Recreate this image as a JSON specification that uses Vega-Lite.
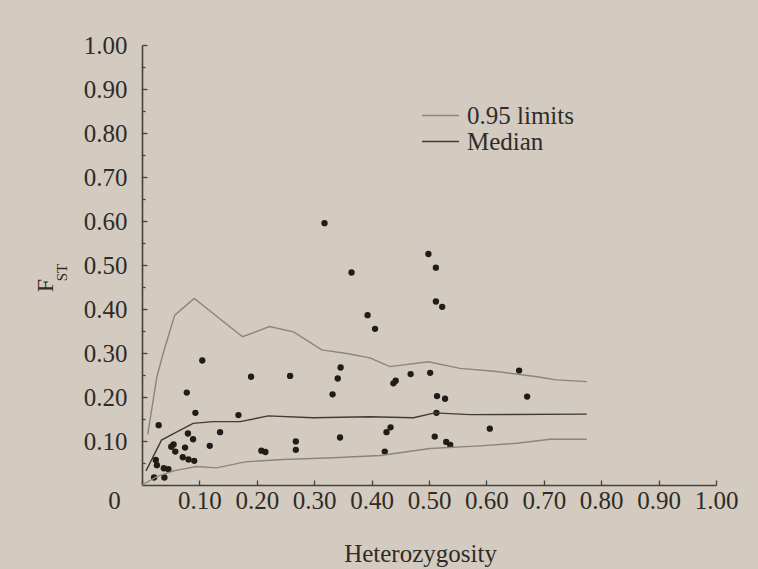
{
  "$schema": "https://vega.github.io/schema/vega-lite/v6.json",
  "width": 574,
  "height": 440,
  "autosize": {"type": "none"},
  "padding": {"left": 142, "top": 45, "right": 42, "bottom": 84},
  "background": "#d3cbbf",
  "config": {
    "view": {"stroke": null},
    "font": "Liberation Serif",
    "axis": {
      "labelFont": "Liberation Serif",
      "titleFont": "Liberation Serif",
      "labelColor": "#2f2b28",
      "titleColor": "#2f2b28",
      "domainColor": "#45413d",
      "tickColor": "#45413d",
      "domainWidth": 1.6,
      "tickWidth": 1.3,
      "grid": false,
      "labelOverlap": false,
      "labelFlush": false,
      "titleFontWeight": "normal"
    }
  },
  "datasets": {
    "points": [
      {"h": 0.021, "f": 0.017}, {"h": 0.039, "f": 0.017}, {"h": 0.024, "f": 0.057}, {"h": 0.026, "f": 0.045},
      {"h": 0.038, "f": 0.038}, {"h": 0.046, "f": 0.036}, {"h": 0.029, "f": 0.136}, {"h": 0.051, "f": 0.087},
      {"h": 0.055, "f": 0.092}, {"h": 0.058, "f": 0.076}, {"h": 0.071, "f": 0.063}, {"h": 0.075, "f": 0.085},
      {"h": 0.078, "f": 0.21}, {"h": 0.08, "f": 0.117}, {"h": 0.081, "f": 0.058}, {"h": 0.089, "f": 0.104},
      {"h": 0.091, "f": 0.055}, {"h": 0.093, "f": 0.164}, {"h": 0.105, "f": 0.283}, {"h": 0.118, "f": 0.089},
      {"h": 0.136, "f": 0.12}, {"h": 0.168, "f": 0.159}, {"h": 0.19, "f": 0.246}, {"h": 0.208, "f": 0.078},
      {"h": 0.215, "f": 0.075}, {"h": 0.258, "f": 0.248}, {"h": 0.268, "f": 0.099}, {"h": 0.268, "f": 0.08},
      {"h": 0.318, "f": 0.595}, {"h": 0.332, "f": 0.206}, {"h": 0.341, "f": 0.242}, {"h": 0.346, "f": 0.267},
      {"h": 0.345, "f": 0.108}, {"h": 0.365, "f": 0.483}, {"h": 0.393, "f": 0.386}, {"h": 0.406, "f": 0.355},
      {"h": 0.423, "f": 0.076}, {"h": 0.426, "f": 0.12}, {"h": 0.433, "f": 0.131}, {"h": 0.438, "f": 0.231},
      {"h": 0.442, "f": 0.237}, {"h": 0.468, "f": 0.252}, {"h": 0.499, "f": 0.525}, {"h": 0.502, "f": 0.255},
      {"h": 0.512, "f": 0.494}, {"h": 0.512, "f": 0.417}, {"h": 0.523, "f": 0.405}, {"h": 0.514, "f": 0.202},
      {"h": 0.528, "f": 0.196}, {"h": 0.513, "f": 0.164}, {"h": 0.51, "f": 0.11}, {"h": 0.53, "f": 0.098},
      {"h": 0.537, "f": 0.091}, {"h": 0.606, "f": 0.128}, {"h": 0.657, "f": 0.26}, {"h": 0.671, "f": 0.201}
    ],
    "curves": [
      {"curve": "upper", "series": "0.95 limits", "h": 0.01, "f": 0.115},
      {"curve": "upper", "series": "0.95 limits", "h": 0.026, "f": 0.246},
      {"curve": "upper", "series": "0.95 limits", "h": 0.037, "f": 0.3},
      {"curve": "upper", "series": "0.95 limits", "h": 0.057, "f": 0.386},
      {"curve": "upper", "series": "0.95 limits", "h": 0.091, "f": 0.424},
      {"curve": "upper", "series": "0.95 limits", "h": 0.175, "f": 0.337},
      {"curve": "upper", "series": "0.95 limits", "h": 0.222, "f": 0.36},
      {"curve": "upper", "series": "0.95 limits", "h": 0.264, "f": 0.348},
      {"curve": "upper", "series": "0.95 limits", "h": 0.313, "f": 0.307},
      {"curve": "upper", "series": "0.95 limits", "h": 0.357, "f": 0.299},
      {"curve": "upper", "series": "0.95 limits", "h": 0.397, "f": 0.289},
      {"curve": "upper", "series": "0.95 limits", "h": 0.432, "f": 0.269},
      {"curve": "upper", "series": "0.95 limits", "h": 0.499, "f": 0.28},
      {"curve": "upper", "series": "0.95 limits", "h": 0.554, "f": 0.265},
      {"curve": "upper", "series": "0.95 limits", "h": 0.618, "f": 0.258},
      {"curve": "upper", "series": "0.95 limits", "h": 0.688, "f": 0.246},
      {"curve": "upper", "series": "0.95 limits", "h": 0.722, "f": 0.239},
      {"curve": "upper", "series": "0.95 limits", "h": 0.775, "f": 0.235},
      {"curve": "median", "series": "Median", "h": 0.007, "f": 0.032},
      {"curve": "median", "series": "Median", "h": 0.034, "f": 0.102},
      {"curve": "median", "series": "Median", "h": 0.055, "f": 0.117},
      {"curve": "median", "series": "Median", "h": 0.089, "f": 0.14},
      {"curve": "median", "series": "Median", "h": 0.124, "f": 0.144},
      {"curve": "median", "series": "Median", "h": 0.171, "f": 0.144},
      {"curve": "median", "series": "Median", "h": 0.22, "f": 0.157},
      {"curve": "median", "series": "Median", "h": 0.298, "f": 0.153},
      {"curve": "median", "series": "Median", "h": 0.397, "f": 0.155},
      {"curve": "median", "series": "Median", "h": 0.473, "f": 0.153},
      {"curve": "median", "series": "Median", "h": 0.51, "f": 0.164},
      {"curve": "median", "series": "Median", "h": 0.571, "f": 0.16},
      {"curve": "median", "series": "Median", "h": 0.775, "f": 0.161},
      {"curve": "lower", "series": "0.95 limits", "h": 0.0, "f": 0.0},
      {"curve": "lower", "series": "0.95 limits", "h": 0.026, "f": 0.019},
      {"curve": "lower", "series": "0.95 limits", "h": 0.055, "f": 0.032},
      {"curve": "lower", "series": "0.95 limits", "h": 0.095, "f": 0.042},
      {"curve": "lower", "series": "0.95 limits", "h": 0.13, "f": 0.039},
      {"curve": "lower", "series": "0.95 limits", "h": 0.182, "f": 0.053},
      {"curve": "lower", "series": "0.95 limits", "h": 0.246, "f": 0.058},
      {"curve": "lower", "series": "0.95 limits", "h": 0.333, "f": 0.062},
      {"curve": "lower", "series": "0.95 limits", "h": 0.415, "f": 0.067},
      {"curve": "lower", "series": "0.95 limits", "h": 0.502, "f": 0.083},
      {"curve": "lower", "series": "0.95 limits", "h": 0.589, "f": 0.089},
      {"curve": "lower", "series": "0.95 limits", "h": 0.653, "f": 0.095},
      {"curve": "lower", "series": "0.95 limits", "h": 0.711, "f": 0.104},
      {"curve": "lower", "series": "0.95 limits", "h": 0.775, "f": 0.104}
    ]
  },
  "layer": [
    {
      "data": {"name": "points"},
      "mark": {"type": "circle", "size": 40, "color": "#1f1c1a", "opacity": 1},
      "encoding": {
        "x": {
          "field": "h", "type": "quantitative",
          "scale": {"domain": [0, 1], "nice": false, "zero": true},
          "axis": {
            "values": [0, 0.05, 0.1, 0.15, 0.2, 0.25, 0.3, 0.35, 0.4, 0.45, 0.5, 0.55, 0.6, 0.65, 0.7, 0.75, 0.8, 0.85, 0.9, 0.95, 1.0],
            "labelExpr": "abs(datum.value*10 - round(datum.value*10)) > 0.01 ? '' : (datum.value == 0 ? '0' : format(datum.value, '.2f'))",
            "labelFontSize": 25,
            "labelPadding": 8,
            "labelOffset": {"condition": {"test": "datum.value == 0", "value": -28}, "value": 0},
            "tickSize": {"condition": {"test": "abs(datum.value*10 - round(datum.value*10)) > 0.01", "value": -3}, "value": -5},
            "title": "Heterozygosity",
            "titleFontSize": 25,
            "titleX": 278,
            "titleY": 68,
            "titleAlign": "center",
            "titleBaseline": "middle"
          }
        },
        "y": {
          "field": "f", "type": "quantitative",
          "scale": {"domain": [0, 1], "nice": false, "zero": true},
          "axis": {
            "values": [0.05, 0.1, 0.15, 0.2, 0.25, 0.3, 0.35, 0.4, 0.45, 0.5, 0.55, 0.6, 0.65, 0.7, 0.75, 0.8, 0.85, 0.9, 0.95, 1.0],
            "labelExpr": "abs(datum.value*10 - round(datum.value*10)) > 0.01 ? '' : format(datum.value, '.2f')",
            "labelFontSize": 25,
            "labelPadding": 20,
            "labelBaseline": "middle",
            "tickSize": {"condition": {"test": "abs(datum.value*10 - round(datum.value*10)) > 0.01", "value": -3}, "value": -5},
            "title": "F",
            "titleFontSize": 24,
            "titleAngle": -90,
            "titleX": -97,
            "titleY": 240,
            "titleAlign": "center",
            "titleBaseline": "middle"
          }
        }
      }
    },
    {
      "data": {"name": "curves"},
      "mark": {"type": "line", "strokeWidth": 1.4},
      "encoding": {
        "x": {"field": "h", "type": "quantitative", "scale": {"domain": [0, 1], "nice": false}},
        "y": {
          "field": "f", "type": "quantitative",
          "scale": {"domain": [0, 1], "nice": false},
          "axis": {
            "orient": "right",
            "labels": false,
            "ticks": false,
            "domain": false,
            "title": "ST",
            "titleFontSize": 15,
            "titleAngle": 270,
            "titleX": -655,
            "titleY": 227,
            "titleAlign": "center",
            "titleBaseline": "middle"
          }
        },
        "color": {
          "field": "series", "type": "nominal",
          "scale": {"domain": ["0.95 limits", "Median"], "range": ["#8a857f", "#3f3b37"]},
          "legend": {
            "orient": "none",
            "legendX": 286,
            "legendY": 58,
            "title": null,
            "symbolType": "M-2,0H2",
            "symbolSize": 342,
            "symbolStrokeWidth": 1.4,
            "symbolFillColor": "transparent",
            "labelFont": "Liberation Serif",
            "labelFontSize": 25,
            "labelColor": "#2f2c29",
            "labelOffset": 14,
            "rowPadding": 0
          }
        },
        "detail": {"field": "curve"},
        "order": {"field": "h"}
      }
    }
  ],
  "resolve": {"axis": {"y": "independent"}}
}
